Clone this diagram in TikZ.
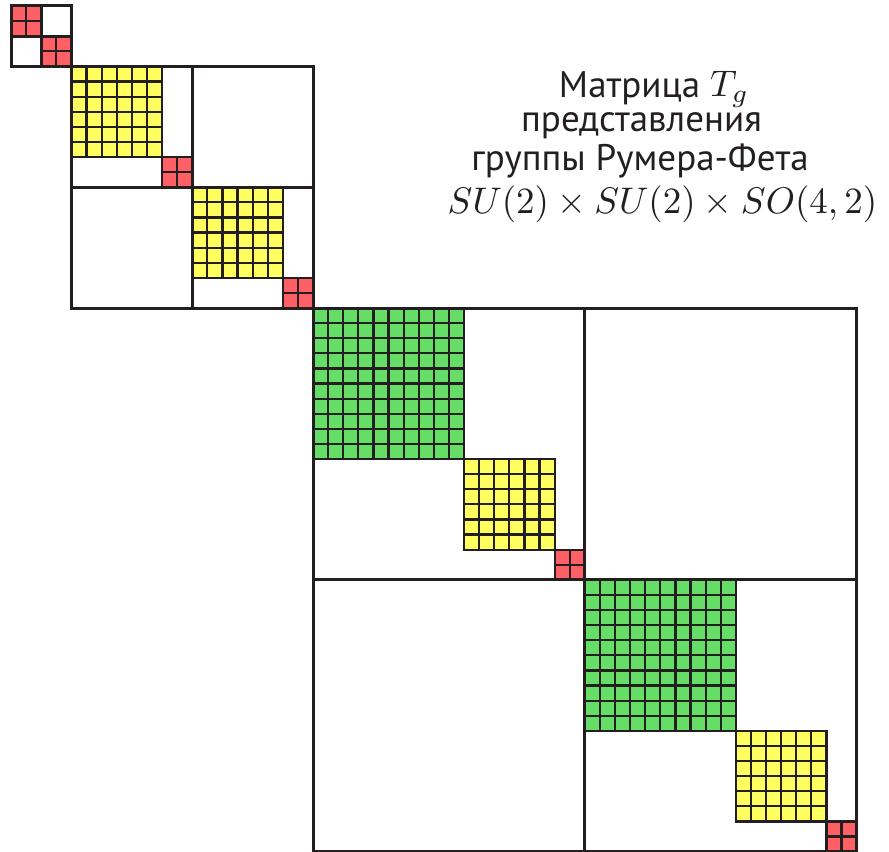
\documentclass[tikz,border=0pt]{standalone}
\usepackage{graphicx}
\usepackage[no-math]{fontspec}
\newfontfamily\cyrsans{PT Sans}
\definecolor{ink}{RGB}{35,31,32}
\definecolor{cred}{RGB}{255,96,102}
\definecolor{cyel}{RGB}{255,255,96}
\definecolor{cgrn}{RGB}{102,221,102}
\newcommand\cblock[4]{%
  \fill[#4] (#1,#2) rectangle ++(#3,#3);
  \foreach \k in {0,...,#3} {
    \draw[gl] (#1+\k,#2) -- (#1+\k,#2+#3);
    \draw[gl] (#1,#2+\k) -- (#1+#3,#2+\k);
  }%
}
\newcommand\bigmath[1]{\scalebox{3.7}{\fontsize{10}{12}\selectfont$#1$}}
\begin{document}
\begin{tikzpicture}[x=15.1pt,y=-15.1pt,
  gl/.style={draw=ink,line width=2.2pt,line cap=rect},
  bl/.style={draw=ink,line width=3pt,line cap=rect},
  lbl/.style={anchor=base,text=ink,inner sep=0pt,font=\fontsize{37}{44}\selectfont}]
\useasboundingbox (-0.7285,-0.3974) rectangle (58.146,56.026);
\fill[white] (-0.7285,-0.3974) rectangle (58.146,56.026);
% block A
\cblock{0}{0}{2}{cred}
\cblock{2}{2}{2}{cred}
% block B
\cblock{4}{4}{6}{cyel}
\cblock{10}{10}{2}{cred}
\cblock{12}{12}{6}{cyel}
\cblock{18}{18}{2}{cred}
% block C
\cblock{20}{20}{10}{cgrn}
\cblock{30}{30}{6}{cyel}
\cblock{36}{36}{2}{cred}
\cblock{38}{38}{10}{cgrn}
\cblock{48}{48}{6}{cyel}
\cblock{54}{54}{2}{cred}
% block borders
\draw[bl] (0,0) rectangle (4,4) (2,0) -- (2,4) (0,2) -- (4,2);
\draw[bl] (4,4) rectangle (20,20) (12,4) -- (12,20) (4,12) -- (20,12);
\draw[bl] (20,20) rectangle (56,56) (38,20) -- (38,56) (20,38) -- (56,38);
% title
\node[lbl] (t1) at ({(654-11)/15.1},{(97-6)/15.1}) {{\cyrsans Матрица}\hspace{10pt}\bigmath{T_g}};
\node[lbl] (t2) at ({(641.5-11)/15.1},{(131-6)/15.1}) {\cyrsans представления};
\node[lbl] (t3) at ({(640-11)/15.1},{(170-6)/15.1}) {\cyrsans группы Румера-Фета};
\node[lbl] (t4) at ({(662.5-11)/15.1},{(213-6)/15.1}) {\bigmath{SU(2)\times SU(2)\times SO(4,2)}};
\end{tikzpicture}
\end{document}
